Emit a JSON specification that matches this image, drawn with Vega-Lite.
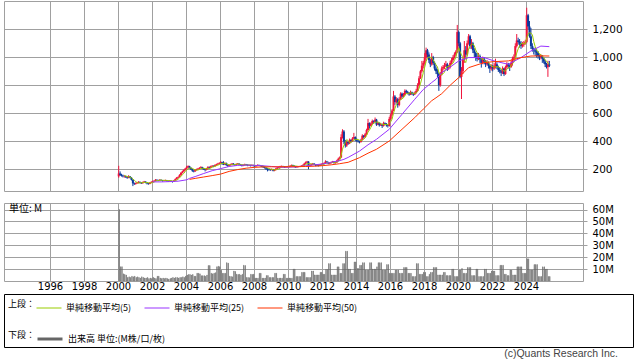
{
"$schema":"https://vega.github.io/schema/vega-lite/v6.json",
"padding":{"left":3,"top":0,"right":0,"bottom":0},
"background":"white",
"config":{
"view":{"stroke":"#a0a0a0"},
"axis":{"domain":false,"grid":true,"gridColor":"#a0a0a0","gridOpacity":1,"ticks":false,"labelFont":"DejaVu Sans","labelFontSize":10,"labelColor":"#000","labelOverlap":false},
"legend":{"labelFont":"Noto Sans CJK JP","titleFont":"Noto Sans CJK JP","labelFontSize":9,"titleFontSize":9,"titleFontWeight":"normal","labelColor":"#000","titleColor":"#000","padding":0}
},
"datasets":{
"p":[
{"d":"2000-01","o":150,"h":225,"l":140,"c":170,"v":60},
{"d":"2000-02","o":170,"h":185,"l":152,"c":160,"v":12},
{"d":"2000-03","o":160,"h":168,"l":148,"c":155,"v":12},
{"d":"2000-04","o":155,"h":162,"l":142,"c":150,"v":6},
{"d":"2000-05","o":150,"h":158,"l":140,"c":150,"v":5.5,"m":157},
{"d":"2000-06","o":150,"h":155,"l":138,"c":145,"v":5,"m":152},
{"d":"2000-07","o":145,"h":150,"l":132,"c":140,"v":3,"m":148},
{"d":"2000-08","o":140,"h":158,"l":136,"c":150,"v":3.5,"m":147},
{"d":"2000-09","o":150,"h":152,"l":135,"c":140,"v":3,"m":145},
{"d":"2000-10","o":140,"h":145,"l":120,"c":125,"v":4,"m":140},
{"d":"2000-11","o":125,"h":128,"l":80,"c":100,"v":3.5,"m":131},
{"d":"2000-12","o":100,"h":105,"l":88,"c":95,"v":4,"m":122},
{"d":"2001-01","o":95,"h":106,"l":90,"c":100,"v":3,"m":112},
{"d":"2001-02","o":100,"h":110,"l":96,"c":105,"v":3.5,"m":105},
{"d":"2001-03","o":105,"h":115,"l":100,"c":110,"v":3,"m":102},
{"d":"2001-04","o":110,"h":113,"l":100,"c":105,"v":2.5,"m":103},
{"d":"2001-05","o":105,"h":108,"l":95,"c":100,"v":3.5,"m":104},
{"d":"2001-06","o":100,"h":112,"l":98,"c":108,"v":3,"m":106},
{"d":"2001-07","o":108,"h":117,"l":104,"c":112,"v":2.5,"m":107},
{"d":"2001-08","o":112,"h":114,"l":100,"c":105,"v":2.5,"m":106},
{"d":"2001-09","o":105,"h":108,"l":92,"c":100,"v":3,"m":105},
{"d":"2001-10","o":100,"h":103,"l":90,"c":95,"v":2,"m":104},
{"d":"2001-11","o":95,"h":108,"l":93,"c":105,"v":2.5,"m":103},
{"d":"2001-12","o":105,"h":114,"l":102,"c":110,"v":2,"m":103},
{"d":"2002-01","o":110,"h":119,"l":107,"c":115,"v":3,"m":105},
{"d":"2002-02","o":115,"h":122,"l":112,"c":118,"v":2.5,"m":109},
{"d":"2002-03","o":118,"h":130,"l":115,"c":125,"v":2,"m":115},
{"d":"2002-04","o":125,"h":128,"l":118,"c":122,"v":4,"m":118},
{"d":"2002-05","o":122,"h":125,"l":115,"c":120,"v":4,"m":120},
{"d":"2002-06","o":120,"h":129,"l":117,"c":125,"v":2.5,"m":122},
{"d":"2002-07","o":125,"h":127,"l":118,"c":122,"v":2,"m":123},
{"d":"2002-08","o":122,"h":124,"l":112,"c":118,"v":2.5,"m":121},
{"d":"2002-09","o":118,"h":124,"l":115,"c":120,"v":2,"m":121},
{"d":"2002-10","o":120,"h":126,"l":117,"c":122,"v":2.5,"m":121},
{"d":"2002-11","o":122,"h":124,"l":112,"c":118,"v":2,"m":120},
{"d":"2002-12","o":118,"h":120,"l":110,"c":115,"v":1.5,"m":119},
{"d":"2003-01","o":115,"h":122,"l":112,"c":118,"v":2,"m":119},
{"d":"2003-02","o":118,"h":120,"l":110,"c":115,"v":2.5,"m":118},
{"d":"2003-03","o":115,"h":117,"l":105,"c":112,"v":3,"m":116},
{"d":"2003-04","o":112,"h":124,"l":110,"c":120,"v":2.5,"m":116},
{"d":"2003-05","o":120,"h":135,"l":118,"c":130,"v":3,"m":119},
{"d":"2003-06","o":130,"h":145,"l":127,"c":140,"v":3,"m":123},
{"d":"2003-07","o":140,"h":150,"l":135,"c":145,"v":2.5,"m":129},
{"d":"2003-08","o":145,"h":165,"l":142,"c":160,"v":3,"m":139},
{"d":"2003-09","o":160,"h":180,"l":155,"c":175,"v":3,"m":150},
{"d":"2003-10","o":175,"h":190,"l":170,"c":185,"v":3.5,"m":161},
{"d":"2003-11","o":185,"h":200,"l":180,"c":195,"v":3,"m":172},
{"d":"2003-12","o":195,"h":210,"l":190,"c":205,"v":4,"m":184},
{"d":"2004-01","o":205,"h":225,"l":200,"c":215,"v":5,"m":195},
{"d":"2004-02","o":215,"h":228,"l":210,"c":222,"v":5.5,"m":204},
{"d":"2004-03","o":222,"h":225,"l":205,"c":210,"v":5.5,"m":209},
{"d":"2004-04","o":210,"h":214,"l":195,"c":200,"v":5,"m":210},
{"d":"2004-05","o":200,"h":204,"l":182,"c":190,"v":5.5,"m":207},
{"d":"2004-06","o":190,"h":194,"l":178,"c":185,"v":4,"m":201},
{"d":"2004-07","o":185,"h":200,"l":182,"c":195,"v":4,"m":196},
{"d":"2004-08","o":195,"h":205,"l":190,"c":200,"v":6.5,"m":194},
{"d":"2004-09","o":200,"h":210,"l":195,"c":205,"v":6.5,"m":195},
{"d":"2004-10","o":205,"h":215,"l":200,"c":210,"v":6,"m":199},
{"d":"2004-11","o":210,"h":222,"l":205,"c":215,"v":4.5,"m":205},
{"d":"2004-12","o":215,"h":218,"l":200,"c":205,"v":4.5,"m":207},
{"d":"2005-01","o":205,"h":210,"l":195,"c":200,"v":4.5,"m":207},
{"d":"2005-02","o":200,"h":204,"l":185,"c":195,"v":4,"m":205},
{"d":"2005-03","o":195,"h":210,"l":192,"c":205,"v":5,"m":204},
{"d":"2005-04","o":205,"h":222,"l":200,"c":215,"v":13,"m":204},
{"d":"2005-05","o":215,"h":220,"l":205,"c":212,"v":13,"m":205},
{"d":"2005-06","o":212,"h":226,"l":208,"c":220,"v":6.5,"m":209},
{"d":"2005-07","o":220,"h":230,"l":215,"c":225,"v":6,"m":215},
{"d":"2005-08","o":225,"h":228,"l":215,"c":222,"v":6.5,"m":219},
{"d":"2005-09","o":222,"h":236,"l":218,"c":230,"v":7,"m":222},
{"d":"2005-10","o":230,"h":240,"l":225,"c":235,"v":12,"m":226},
{"d":"2005-11","o":235,"h":246,"l":230,"c":240,"v":12.4,"m":230},
{"d":"2005-12","o":240,"h":250,"l":235,"c":245,"v":12,"m":234},
{"d":"2006-01","o":245,"h":258,"l":240,"c":250,"v":9,"m":240},
{"d":"2006-02","o":250,"h":254,"l":232,"c":238,"v":6.5,"m":242},
{"d":"2006-03","o":238,"h":258,"l":230,"c":235,"v":6.5,"m":242},
{"d":"2006-04","o":235,"h":250,"l":230,"c":245,"v":6.5,"m":243},
{"d":"2006-05","o":245,"h":248,"l":225,"c":230,"v":15.4,"m":240},
{"d":"2006-06","o":230,"h":234,"l":218,"c":225,"v":15,"m":235},
{"d":"2006-07","o":225,"h":235,"l":220,"c":230,"v":4,"m":233},
{"d":"2006-08","o":230,"h":240,"l":226,"c":235,"v":3.8,"m":233},
{"d":"2006-09","o":235,"h":245,"l":230,"c":240,"v":3.5,"m":232},
{"d":"2006-10","o":240,"h":244,"l":230,"c":235,"v":8.4,"m":233},
{"d":"2006-11","o":235,"h":238,"l":225,"c":230,"v":8,"m":234},
{"d":"2006-12","o":230,"h":242,"l":226,"c":238,"v":5.7,"m":236},
{"d":"2007-01","o":238,"h":245,"l":234,"c":240,"v":5.5,"m":237},
{"d":"2007-02","o":240,"h":243,"l":230,"c":235,"v":5.7,"m":236},
{"d":"2007-03","o":235,"h":238,"l":225,"c":230,"v":5,"m":235},
{"d":"2007-04","o":230,"h":233,"l":220,"c":225,"v":5.7,"m":234},
{"d":"2007-05","o":225,"h":235,"l":222,"c":230,"v":13.2,"m":232},
{"d":"2007-06","o":230,"h":240,"l":226,"c":235,"v":13,"m":231},
{"d":"2007-07","o":235,"h":238,"l":228,"c":232,"v":3,"m":230},
{"d":"2007-08","o":232,"h":235,"l":222,"c":228,"v":3,"m":230},
{"d":"2007-09","o":228,"h":234,"l":224,"c":230,"v":2.8,"m":231},
{"d":"2007-10","o":230,"h":233,"l":220,"c":225,"v":5.7,"m":230},
{"d":"2007-11","o":225,"h":235,"l":222,"c":230,"v":5.5,"m":229},
{"d":"2007-12","o":230,"h":233,"l":220,"c":225,"v":5.7,"m":228},
{"d":"2008-01","o":225,"h":228,"l":215,"c":222,"v":2.4,"m":226},
{"d":"2008-02","o":222,"h":230,"l":218,"c":225,"v":2.5,"m":225},
{"d":"2008-03","o":225,"h":235,"l":222,"c":230,"v":2.4,"m":226},
{"d":"2008-04","o":230,"h":234,"l":224,"c":228,"v":6.5,"m":226},
{"d":"2008-05","o":228,"h":231,"l":220,"c":225,"v":6.5,"m":226},
{"d":"2008-06","o":225,"h":228,"l":215,"c":220,"v":2.4,"m":226},
{"d":"2008-07","o":220,"h":224,"l":210,"c":215,"v":2.4,"m":224},
{"d":"2008-08","o":215,"h":219,"l":205,"c":212,"v":2.5,"m":220},
{"d":"2008-09","o":212,"h":215,"l":195,"c":205,"v":4.6,"m":215},
{"d":"2008-10","o":205,"h":208,"l":185,"c":200,"v":4.6,"m":210},
{"d":"2008-11","o":200,"h":204,"l":190,"c":198,"v":3,"m":206},
{"d":"2008-12","o":198,"h":202,"l":188,"c":195,"v":3,"m":202},
{"d":"2009-01","o":195,"h":206,"l":192,"c":200,"v":3,"m":200},
{"d":"2009-02","o":200,"h":203,"l":185,"c":190,"v":3,"m":197},
{"d":"2009-03","o":190,"h":200,"l":186,"c":195,"v":6.5,"m":196},
{"d":"2009-04","o":195,"h":210,"l":192,"c":205,"v":6.5,"m":197},
{"d":"2009-05","o":205,"h":216,"l":200,"c":212,"v":2.4,"m":200},
{"d":"2009-06","o":212,"h":220,"l":208,"c":215,"v":2.4,"m":203},
{"d":"2009-07","o":215,"h":225,"l":212,"c":220,"v":2.5,"m":209},
{"d":"2009-08","o":220,"h":227,"l":216,"c":222,"v":2.4,"m":215},
{"d":"2009-09","o":222,"h":225,"l":215,"c":220,"v":5.7,"m":218},
{"d":"2009-10","o":220,"h":223,"l":210,"c":215,"v":5.7,"m":218},
{"d":"2009-11","o":215,"h":222,"l":212,"c":218,"v":2.4,"m":219},
{"d":"2009-12","o":218,"h":224,"l":214,"c":220,"v":2.4,"m":219},
{"d":"2010-01","o":220,"h":226,"l":216,"c":222,"v":2.5,"m":219},
{"d":"2010-02","o":222,"h":229,"l":218,"c":225,"v":2.4,"m":220},
{"d":"2010-03","o":225,"h":234,"l":222,"c":230,"v":2.4,"m":223},
{"d":"2010-04","o":230,"h":233,"l":220,"c":225,"v":10,"m":224},
{"d":"2010-05","o":225,"h":228,"l":214,"c":220,"v":10,"m":224},
{"d":"2010-06","o":220,"h":223,"l":210,"c":215,"v":3.8,"m":223},
{"d":"2010-07","o":215,"h":222,"l":212,"c":218,"v":3.8,"m":222},
{"d":"2010-08","o":218,"h":224,"l":214,"c":220,"v":3.8,"m":220},
{"d":"2010-09","o":220,"h":226,"l":216,"c":222,"v":3.8,"m":219},
{"d":"2010-10","o":222,"h":229,"l":218,"c":225,"v":7.3,"m":220},
{"d":"2010-11","o":225,"h":235,"l":222,"c":230,"v":7.3,"m":223},
{"d":"2010-12","o":230,"h":246,"l":226,"c":240,"v":7.3,"m":227},
{"d":"2011-01","o":240,"h":256,"l":236,"c":250,"v":3,"m":233},
{"d":"2011-02","o":250,"h":260,"l":245,"c":255,"v":3,"m":240},
{"d":"2011-03","o":255,"h":258,"l":200,"c":225,"v":3,"m":240},
{"d":"2011-04","o":225,"h":235,"l":220,"c":230,"v":3,"m":240},
{"d":"2011-05","o":230,"h":240,"l":226,"c":235,"v":8.4,"m":239},
{"d":"2011-06","o":235,"h":245,"l":230,"c":240,"v":8.4,"m":237},
{"d":"2011-07","o":240,"h":244,"l":230,"c":235,"v":5.1,"m":233},
{"d":"2011-08","o":235,"h":238,"l":222,"c":230,"v":5.1,"m":234},
{"d":"2011-09","o":230,"h":234,"l":222,"c":228,"v":5.1,"m":234},
{"d":"2011-10","o":228,"h":232,"l":220,"c":225,"v":5.1,"m":232},
{"d":"2011-11","o":225,"h":236,"l":222,"c":232,"v":7.3,"m":230},
{"d":"2011-12","o":232,"h":242,"l":228,"c":238,"v":7.3,"m":231},
{"d":"2012-01","o":238,"h":245,"l":234,"c":240,"v":5.7,"m":233},
{"d":"2012-02","o":240,"h":250,"l":236,"c":245,"v":5.7,"m":236},
{"d":"2012-03","o":245,"h":264,"l":242,"c":255,"v":9.7,"m":242},
{"d":"2012-04","o":255,"h":260,"l":245,"c":250,"v":9.7,"m":246},
{"d":"2012-05","o":250,"h":254,"l":236,"c":240,"v":14.6,"m":246},
{"d":"2012-06","o":240,"h":250,"l":236,"c":245,"v":14.6,"m":247},
{"d":"2012-07","o":245,"h":255,"l":240,"c":250,"v":5.1,"m":248},
{"d":"2012-08","o":250,"h":260,"l":246,"c":255,"v":5.1,"m":248},
{"d":"2012-09","o":255,"h":258,"l":240,"c":245,"v":5.1,"m":247},
{"d":"2012-10","o":245,"h":255,"l":240,"c":250,"v":5.1,"m":249},
{"d":"2012-11","o":250,"h":268,"l":246,"c":262,"v":11.9,"m":252},
{"d":"2012-12","o":262,"h":283,"l":258,"c":275,"v":11.9,"m":257},
{"d":"2013-01","o":275,"h":292,"l":270,"c":285,"v":6.5,"m":263},
{"d":"2013-02","o":285,"h":450,"l":280,"c":430,"v":6.5,"m":300},
{"d":"2013-03","o":430,"h":486,"l":420,"c":470,"v":14.6,"m":344},
{"d":"2013-04","o":470,"h":480,"l":380,"c":400,"v":14.6,"m":372},
{"d":"2013-05","o":400,"h":410,"l":355,"c":370,"v":25,"m":391},
{"d":"2013-06","o":370,"h":405,"l":360,"c":395,"v":25,"m":413},
{"d":"2013-07","o":395,"h":400,"l":375,"c":385,"v":10,"m":404},
{"d":"2013-08","o":385,"h":420,"l":380,"c":410,"v":10,"m":392},
{"d":"2013-09","o":410,"h":415,"l":390,"c":400,"v":6.5,"m":392},
{"d":"2013-10","o":400,"h":430,"l":395,"c":420,"v":6.5,"m":402},
{"d":"2013-11","o":420,"h":460,"l":415,"c":430,"v":16,"m":409},
{"d":"2013-12","o":430,"h":435,"l":400,"c":410,"v":16,"m":414},
{"d":"2014-01","o":410,"h":420,"l":395,"c":405,"v":10.5,"m":413},
{"d":"2014-02","o":405,"h":410,"l":390,"c":400,"v":10.5,"m":413},
{"d":"2014-03","o":400,"h":405,"l":385,"c":395,"v":13.2,"m":408},
{"d":"2014-04","o":395,"h":418,"l":390,"c":410,"v":13.2,"m":404},
{"d":"2014-05","o":410,"h":450,"l":405,"c":440,"v":15.4,"m":410},
{"d":"2014-06","o":440,"h":445,"l":420,"c":430,"v":15.4,"m":415},
{"d":"2014-07","o":430,"h":460,"l":425,"c":450,"v":9.2,"m":425},
{"d":"2014-08","o":450,"h":490,"l":445,"c":480,"v":9.2,"m":442},
{"d":"2014-09","o":480,"h":560,"l":475,"c":530,"v":9.2,"m":466},
{"d":"2014-10","o":530,"h":535,"l":490,"c":510,"v":15.4,"m":480},
{"d":"2014-11","o":510,"h":535,"l":505,"c":525,"v":15.4,"m":499},
{"d":"2014-12","o":525,"h":555,"l":520,"c":545,"v":10,"m":518},
{"d":"2015-01","o":545,"h":550,"l":525,"c":540,"v":10,"m":530},
{"d":"2015-02","o":540,"h":570,"l":535,"c":555,"v":10,"m":535},
{"d":"2015-03","o":555,"h":560,"l":510,"c":520,"v":11.9,"m":537},
{"d":"2015-04","o":520,"h":540,"l":515,"c":530,"v":15.4,"m":538},
{"d":"2015-05","o":530,"h":535,"l":505,"c":515,"v":15.4,"m":532},
{"d":"2015-06","o":515,"h":530,"l":510,"c":520,"v":15.4,"m":528},
{"d":"2015-07","o":520,"h":525,"l":495,"c":510,"v":9.2,"m":519},
{"d":"2015-08","o":510,"h":540,"l":505,"c":530,"v":9.2,"m":521},
{"d":"2015-09","o":530,"h":535,"l":515,"c":525,"v":9.2,"m":520},
{"d":"2015-10","o":525,"h":530,"l":505,"c":515,"v":13.8,"m":520},
{"d":"2015-11","o":515,"h":520,"l":498,"c":510,"v":13.8,"m":518},
{"d":"2015-12","o":510,"h":575,"l":505,"c":560,"v":6.5,"m":528},
{"d":"2016-01","o":560,"h":600,"l":550,"c":590,"v":6.5,"m":540},
{"d":"2016-02","o":590,"h":630,"l":580,"c":620,"v":6.5,"m":559},
{"d":"2016-03","o":620,"h":760,"l":615,"c":720,"v":6.5,"m":600},
{"d":"2016-04","o":720,"h":730,"l":660,"c":680,"v":9.2,"m":634},
{"d":"2016-05","o":680,"h":715,"l":670,"c":700,"v":9.2,"m":662},
{"d":"2016-06","o":700,"h":710,"l":640,"c":660,"v":9.2,"m":676},
{"d":"2016-07","o":660,"h":715,"l":650,"c":700,"v":6.5,"m":692},
{"d":"2016-08","o":700,"h":750,"l":695,"c":740,"v":6.5,"m":696},
{"d":"2016-09","o":740,"h":748,"l":710,"c":720,"v":6.5,"m":704},
{"d":"2016-10","o":720,"h":745,"l":715,"c":730,"v":11.4,"m":710},
{"d":"2016-11","o":730,"h":771,"l":725,"c":760,"v":11.4,"m":730},
{"d":"2016-12","o":760,"h":768,"l":740,"c":750,"v":11.4,"m":740},
{"d":"2017-01","o":750,"h":760,"l":735,"c":745,"v":6.5,"m":741},
{"d":"2017-02","o":745,"h":752,"l":725,"c":735,"v":6.5,"m":744},
{"d":"2017-03","o":735,"h":762,"l":730,"c":750,"v":6.5,"m":748},
{"d":"2017-04","o":750,"h":755,"l":730,"c":740,"v":3.8,"m":744},
{"d":"2017-05","o":740,"h":748,"l":724,"c":735,"v":3.8,"m":741},
{"d":"2017-06","o":735,"h":755,"l":730,"c":745,"v":3.8,"m":741},
{"d":"2017-07","o":745,"h":775,"l":740,"c":760,"v":14.6,"m":746},
{"d":"2017-08","o":760,"h":815,"l":755,"c":800,"v":14.6,"m":756},
{"d":"2017-09","o":800,"h":865,"l":795,"c":850,"v":5.7,"m":778},
{"d":"2017-10","o":850,"h":910,"l":845,"c":900,"v":5.7,"m":811},
{"d":"2017-11","o":900,"h":974,"l":890,"c":940,"v":5.7,"m":850},
{"d":"2017-12","o":940,"h":975,"l":920,"c":960,"v":7.3,"m":890},
{"d":"2018-01","o":960,"h":1030,"l":950,"c":1000,"v":7.3,"m":930},
{"d":"2018-02","o":1000,"h":1069,"l":980,"c":1050,"v":3.8,"m":970},
{"d":"2018-03","o":1050,"h":1060,"l":1000,"c":1020,"v":3.8,"m":994},
{"d":"2018-04","o":1020,"h":1035,"l":960,"c":980,"v":5.7,"m":1002},
{"d":"2018-05","o":980,"h":990,"l":930,"c":950,"v":7.3,"m":1000},
{"d":"2018-06","o":950,"h":1030,"l":940,"c":1000,"v":7.3,"m":1000},
{"d":"2018-07","o":1000,"h":1010,"l":945,"c":960,"v":11.4,"m":982},
{"d":"2018-08","o":960,"h":970,"l":905,"c":920,"v":11.4,"m":962},
{"d":"2018-09","o":920,"h":935,"l":880,"c":900,"v":11.4,"m":946},
{"d":"2018-10","o":900,"h":915,"l":855,"c":880,"v":5.1,"m":932},
{"d":"2018-11","o":880,"h":890,"l":760,"c":800,"v":5.1,"m":892},
{"d":"2018-12","o":800,"h":895,"l":790,"c":880,"v":5.1,"m":876},
{"d":"2019-01","o":880,"h":935,"l":870,"c":920,"v":5.1,"m":876},
{"d":"2019-02","o":920,"h":945,"l":905,"c":930,"v":7.3,"m":882},
{"d":"2019-03","o":930,"h":960,"l":915,"c":940,"v":7.3,"m":894},
{"d":"2019-04","o":940,"h":974,"l":930,"c":950,"v":4.6,"m":924},
{"d":"2019-05","o":950,"h":960,"l":902,"c":920,"v":4.6,"m":932},
{"d":"2019-06","o":920,"h":945,"l":910,"c":930,"v":4.6,"m":934},
{"d":"2019-07","o":930,"h":975,"l":920,"c":960,"v":4.6,"m":940},
{"d":"2019-08","o":960,"h":995,"l":950,"c":980,"v":10,"m":948},
{"d":"2019-09","o":980,"h":1015,"l":970,"c":1000,"v":10,"m":958},
{"d":"2019-10","o":1000,"h":1035,"l":990,"c":1020,"v":3.8,"m":978},
{"d":"2019-11","o":1020,"h":1050,"l":1010,"c":1040,"v":3.8,"m":1000},
{"d":"2019-12","o":1040,"h":1231,"l":1030,"c":1180,"v":3.8,"m":1044},
{"d":"2020-01","o":1180,"h":1190,"l":1080,"c":1100,"v":9.2,"m":1068},
{"d":"2020-02","o":1100,"h":1110,"l":850,"c":860,"v":9.2,"m":1040},
{"d":"2020-03","o":860,"h":930,"l":702,"c":900,"v":10.5,"m":1016},
{"d":"2020-04","o":900,"h":1000,"l":880,"c":980,"v":6.5,"m":1004},
{"d":"2020-05","o":980,"h":1116,"l":960,"c":1050,"v":6.5,"m":978},
{"d":"2020-06","o":1050,"h":1080,"l":1000,"c":1020,"v":6.5,"m":962},
{"d":"2020-07","o":1020,"h":1120,"l":1010,"c":1100,"v":11.4,"m":1010},
{"d":"2020-08","o":1100,"h":1166,"l":1090,"c":1150,"v":11.4,"m":1060},
{"d":"2020-09","o":1150,"h":1160,"l":1060,"c":1080,"v":11.4,"m":1080},
{"d":"2020-10","o":1080,"h":1130,"l":1060,"c":1100,"v":4.6,"m":1090},
{"d":"2020-11","o":1100,"h":1110,"l":1030,"c":1050,"v":4.6,"m":1096},
{"d":"2020-12","o":1050,"h":1065,"l":1000,"c":1030,"v":4.6,"m":1082},
{"d":"2021-01","o":1030,"h":1040,"l":975,"c":1000,"v":10,"m":1052},
{"d":"2021-02","o":1000,"h":1030,"l":970,"c":990,"v":10,"m":1034},
{"d":"2021-03","o":990,"h":1031,"l":980,"c":1010,"v":3.8,"m":1016},
{"d":"2021-04","o":1010,"h":1020,"l":960,"c":985,"v":3.8,"m":1003},
{"d":"2021-05","o":985,"h":995,"l":926,"c":960,"v":3.8,"m":989},
{"d":"2021-06","o":960,"h":1005,"l":950,"c":990,"v":3.8,"m":987},
{"d":"2021-07","o":990,"h":1000,"l":950,"c":970,"v":10,"m":983},
{"d":"2021-08","o":970,"h":980,"l":930,"c":950,"v":10,"m":971},
{"d":"2021-09","o":950,"h":980,"l":940,"c":960,"v":6.5,"m":966},
{"d":"2021-10","o":960,"h":970,"l":920,"c":940,"v":6.5,"m":962},
{"d":"2021-11","o":940,"h":950,"l":888,"c":920,"v":6.5,"m":948},
{"d":"2021-12","o":920,"h":950,"l":905,"c":930,"v":8.4,"m":940},
{"d":"2022-01","o":930,"h":945,"l":900,"c":920,"v":8.4,"m":934},
{"d":"2022-02","o":920,"h":960,"l":910,"c":940,"v":8.4,"m":930},
{"d":"2022-03","o":940,"h":990,"l":920,"c":950,"v":4.6,"m":932},
{"d":"2022-04","o":950,"h":965,"l":915,"c":930,"v":4.6,"m":934},
{"d":"2022-05","o":930,"h":940,"l":895,"c":910,"v":4.6,"m":930},
{"d":"2022-06","o":910,"h":930,"l":885,"c":900,"v":13.2,"m":926},
{"d":"2022-07","o":900,"h":915,"l":866,"c":890,"v":13.2,"m":916},
{"d":"2022-08","o":890,"h":935,"l":880,"c":920,"v":13.2,"m":910},
{"d":"2022-09","o":920,"h":925,"l":866,"c":880,"v":5.7,"m":900},
{"d":"2022-10","o":880,"h":940,"l":875,"c":930,"v":5.7,"m":904},
{"d":"2022-11","o":930,"h":965,"l":920,"c":950,"v":4.6,"m":914},
{"d":"2022-12","o":950,"h":960,"l":920,"c":940,"v":4.6,"m":924},
{"d":"2023-01","o":940,"h":950,"l":902,"c":930,"v":9.2,"m":926},
{"d":"2023-02","o":930,"h":974,"l":925,"c":960,"v":9.2,"m":942},
{"d":"2023-03","o":960,"h":1005,"l":940,"c":990,"v":5.1,"m":954},
{"d":"2023-04","o":990,"h":1021,"l":975,"c":1000,"v":5.1,"m":964},
{"d":"2023-05","o":1000,"h":1100,"l":990,"c":1080,"v":5.1,"m":992},
{"d":"2023-06","o":1080,"h":1166,"l":1070,"c":1120,"v":11.9,"m":1030},
{"d":"2023-07","o":1120,"h":1140,"l":1090,"c":1110,"v":11.9,"m":1060},
{"d":"2023-08","o":1110,"h":1130,"l":1069,"c":1100,"v":11.9,"m":1082},
{"d":"2023-09","o":1100,"h":1116,"l":1060,"c":1080,"v":11.9,"m":1098},
{"d":"2023-10","o":1080,"h":1110,"l":1069,"c":1090,"v":6.5,"m":1100},
{"d":"2023-11","o":1090,"h":1116,"l":1075,"c":1100,"v":6.5,"m":1096},
{"d":"2023-12","o":1100,"h":1125,"l":1090,"c":1110,"v":6.5,"m":1096},
{"d":"2024-01","o":1110,"h":1354,"l":1100,"c":1300,"v":18.6,"m":1136},
{"d":"2024-02","o":1300,"h":1310,"l":1200,"c":1220,"v":18.6,"m":1164},
{"d":"2024-03","o":1220,"h":1259,"l":1140,"c":1150,"v":9.2,"m":1176},
{"d":"2024-04","o":1150,"h":1210,"l":1059,"c":1080,"v":9.2,"m":1172},
{"d":"2024-05","o":1080,"h":1100,"l":1040,"c":1060,"v":9.2,"m":1162},
{"d":"2024-06","o":1060,"h":1069,"l":1020,"c":1050,"v":13.8,"m":1112},
{"d":"2024-07","o":1050,"h":1069,"l":1010,"c":1040,"v":13.8,"m":1076},
{"d":"2024-08","o":1040,"h":1060,"l":998,"c":1030,"v":13.8,"m":1052},
{"d":"2024-09","o":1030,"h":1045,"l":990,"c":1010,"v":3.8,"m":1038},
{"d":"2024-10","o":1010,"h":1021,"l":980,"c":1000,"v":3.8,"m":1026},
{"d":"2024-11","o":1000,"h":1021,"l":985,"c":1010,"v":3.8,"m":1018},
{"d":"2024-12","o":1010,"h":1015,"l":960,"c":990,"v":11.9,"m":1008},
{"d":"2025-01","o":990,"h":1000,"l":955,"c":970,"v":11.9,"m":996},
{"d":"2025-02","o":970,"h":980,"l":930,"c":950,"v":10,"m":984},
{"d":"2025-03","o":950,"h":960,"l":920,"c":930,"v":10,"m":970},
{"d":"2025-04","o":930,"h":975,"l":860,"c":950,"v":3.8,"m":958},
{"d":"2025-05","o":950,"h":974,"l":930,"c":940,"v":3.8,"m":948}
],
"ma":[
{"d":"2002-01","a":110},{"d":"2002-07","a":110},{"d":"2003-01","a":112},{"d":"2003-07","a":115},{"d":"2004-01","a":125},
{"d":"2004-03","a":135,"b":128},{"d":"2004-07","a":148,"b":135},{"d":"2005-01","a":170,"b":145},{"d":"2005-07","a":190,"b":155},
{"d":"2006-01","a":205,"b":166},{"d":"2006-07","a":220,"b":185},{"d":"2007-01","a":228,"b":198},{"d":"2007-07","a":230,"b":208},
{"d":"2008-01","a":228,"b":214},{"d":"2008-07","a":225,"b":217},{"d":"2009-01","a":220,"b":218},{"d":"2009-07","a":215,"b":218},
{"d":"2010-01","a":215,"b":218},{"d":"2010-07","a":218,"b":219},{"d":"2011-01","a":225,"b":220},{"d":"2011-07","a":232,"b":222},
{"d":"2012-01","a":238,"b":226},{"d":"2012-07","a":250,"b":232},{"d":"2013-01","a":262,"b":240},{"d":"2013-04","a":271,"b":245},
{"d":"2013-07","a":285,"b":250},{"d":"2014-03","a":330,"b":283},{"d":"2014-09","a":375,"b":315},{"d":"2015-03","a":414,"b":343},
{"d":"2015-12","a":486,"b":402},{"d":"2016-09","a":593,"b":486},{"d":"2017-06","a":700,"b":569},{"d":"2017-12","a":770,"b":630},
{"d":"2018-06","a":820,"b":690},{"d":"2018-09","a":843,"b":711},{"d":"2019-01","a":890,"b":740},{"d":"2019-07","a":930,"b":800},
{"d":"2020-01","a":974,"b":855},{"d":"2020-08","a":998,"b":926},{"d":"2021-07","a":998,"b":962},{"d":"2022-02","a":974,"b":969},
{"d":"2022-12","a":950,"b":974},{"d":"2023-09","a":998,"b":998},{"d":"2024-04","a":1045,"b":1009},{"d":"2024-11","a":1080,"b":1010},
{"d":"2025-05","a":1076,"b":1009}
]
},
"spacing":1,
"vconcat":[
{"spacing":10,"vconcat":[
{
"width":579,"height":190,
"data":{"name":"p"},
"encoding":{"x":{"field":"d","timeUnit":"yearmonth","type":"temporal","bandPosition":0.5,
 "scale":{"type":"time","nice":false,"domain":[{"year":1993,"month":4,"date":18},{"year":2027,"month":5,"date":10}]},
 "axis":{"values":[{"year":1996},{"year":1998},{"year":2000},{"year":2002},{"year":2004},{"year":2006},{"year":2008},{"year":2010},{"year":2012},{"year":2014},{"year":2016},{"year":2018},{"year":2020},{"year":2022},{"year":2024}],"tickCount":40,"labels":false,"title":null}}},
"layer":[
{"mark":{"type":"rule","strokeWidth":1},
 "encoding":{"y":{"field":"l","type":"quantitative","scale":{"domain":[45,1402],"nice":false,"zero":false},
   "axis":{"orient":"right","values":[200,400,600,800,1000,1200],"tickCount":20,"format":",.0f","grid":true,"ticks":true,"tickSize":4,"tickColor":"#a0a0a0","labelPadding":5,"labelFontSize":10.5,"labelOverlap":false,"title":null}},
  "y2":{"field":"h"},
  "stroke":{"condition":{"test":"datum.c>=datum.o","value":"#f0143c"},"value":"#0a3a9e"}}},
{"mark":{"type":"rule","strokeWidth":2},
 "encoding":{"y":{"field":"o","type":"quantitative"},"y2":{"field":"c"},
  "stroke":{"condition":{"test":"datum.c>=datum.o","value":"#f0143c"},"value":"#0a3a9e"}}},
{"mark":{"type":"line","strokeWidth":1},
 "encoding":{"y":{"field":"m","type":"quantitative"},
  "stroke":{"datum":"単純移動平均(5)","scale":{"domain":["単純移動平均(5)","単純移動平均(25)","単純移動平均(50)"],"range":["#9c0","#9933ff","#ff3300"]},
   "legend":{"title":"上段：","orient":"none","legendX":4,"legendY":294,"direction":"horizontal","titleOrient":"left","titlePadding":0,"symbolType":"stroke","symbolSize":625,"symbolStrokeWidth":1,"labelOffset":4,"columnPadding":10}}}},
{"data":{"name":"ma"},"mark":{"type":"line","strokeWidth":1},
 "encoding":{"y":{"field":"a","type":"quantitative"},"stroke":{"datum":"単純移動平均(25)"}}},
{"data":{"name":"ma"},"mark":{"type":"line","strokeWidth":1},
 "encoding":{"y":{"field":"b","type":"quantitative"},"stroke":{"datum":"単純移動平均(50)"}}}
]
},
{
"width":579,"height":78,
"title":{"text":"単位: M","anchor":"start","frame":"group","orient":"top","offset":-11,"dx":5,"font":"Noto Sans CJK JP","fontSize":10,"fontWeight":"normal","color":"#000"},
"data":{"name":"p"},
"mark":{"type":"bar","fill":"#666","stroke":"#666","strokeWidth":0.5},
"encoding":{
 "x":{"field":"d","timeUnit":"yearmonth","type":"temporal",
  "scale":{"type":"time","nice":false,"domain":[{"year":1993,"month":4,"date":18},{"year":2027,"month":5,"date":10}]},
  "axis":{"values":[{"year":1996},{"year":1998},{"year":2000},{"year":2002},{"year":2004},{"year":2006},{"year":2008},{"year":2010},{"year":2012},{"year":2014},{"year":2016},{"year":2018},{"year":2020},{"year":2022},{"year":2024}],"tickCount":40,"format":"%Y","labelPadding":0,"labelFontSize":10,"title":null}},
 "y":{"field":"v","type":"quantitative","scale":{"domain":[0,65.5],"nice":false},
  "axis":{"orient":"right","values":[10,20,30,40,50,60],"tickCount":20,"labelExpr":"datum.value + 'M'","grid":true,"ticks":true,"tickSize":4,"tickColor":"#a0a0a0","labelPadding":5,"labelFontSize":10,"title":null}}
}
}
]},
{
"width":629,"height":53,
"view":{"stroke":"#000"},
"title":{"text":"(c)Quants Research Inc.","orient":"bottom","anchor":"end","frame":"group","font":"Liberation Sans","fontSize":10.5,"fontWeight":"normal","color":"#444","offset":2,"dx":-15},
"data":{"values":[]},
"mark":{"type":"bar"},
"encoding":{"fill":{"datum":"出来高 単位:(M株/口/枚)","scale":{"range":["#666"]},
  "legend":{"title":"下段：","orient":"none","legendX":4,"legendY":324,"direction":"horizontal","titleOrient":"left","titlePadding":0,"symbolType":"stroke","symbolSize":625,"labelOffset":4,
   "encode":{"symbols":{"update":{"stroke":{"value":"#666"},"strokeWidth":{"value":3}}}}}}}
}
]
}
